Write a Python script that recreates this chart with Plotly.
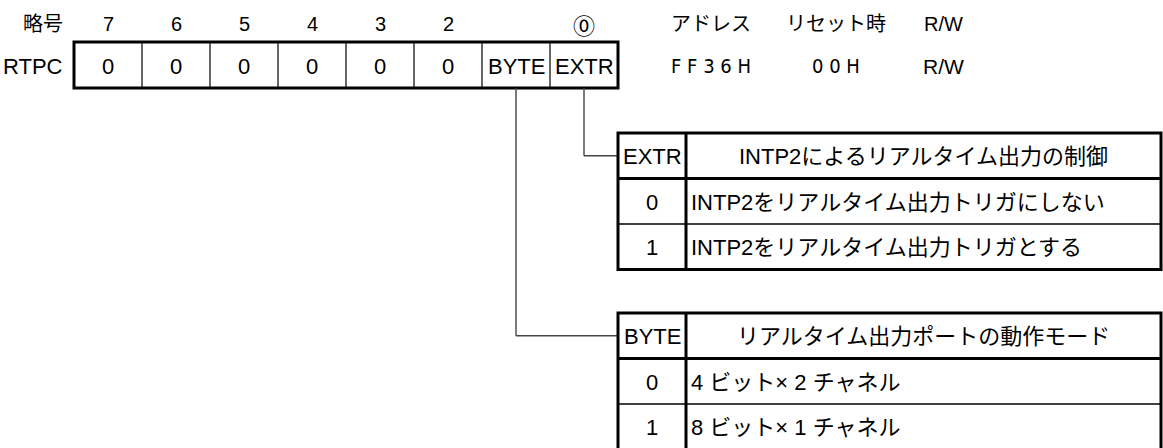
import plotly.graph_objects as go

# ---------------- data ----------------
symbol_label = "略号"
register_name = "RTPC"
bit_numbers = ["7", "6", "5", "4", "3", "2", "", "⓪"]
bit_values = ["0", "0", "0", "0", "0", "0", "BYTE", "EXTR"]
info_headers = ["アドレス", "リセット時", "R/W"]
info_values = ["F F 3 6 H", "0 0 H", "R/W"]

extr_head = ["EXTR", "INTP2によるリアルタイム出力の制御"]
extr_codes = ["0", "1"]
extr_desc = ["INTP2をリアルタイム出力トリガにしない", "INTP2をリアルタイム出力トリガとする"]

byte_head = ["BYTE", "リアルタイム出力ポートの動作モード"]
byte_codes = ["0", "1"]
byte_desc = ["4 ビット× 2 チャネル", "8 ビット× 1 チャネル"]

# ---------------- layout constants ----------------
W, H = 1163, 448
FONT = "Liberation Sans, Arial, Noto Sans CJK JP, sans-serif"
CJK = "Noto Sans CJK JP, sans-serif"
NARROW = "Liberation Sans Narrow, DejaVu Sans Condensed, Liberation Sans, sans-serif"
FS = 22
REG_X0, CELL_W = 74, 68
REG_Y0, REG_Y1 = 42, 88
TOP_Y = 23
LABEL_RIGHT = 65
INFO_X = [711, 836, 943]
TBL_X0, TBL_XC, TBL_X1 = 618, 686, 1161
ROW_H = 45.5
TABLE_TOPS = {"EXTR": 133, "BYTE": 313}
TEXT_DY = 1

fig = go.Figure()
shapes = []
ann = []


def text(x, y, s, anchor="center", size=FS, family=FONT):
    ann.append(dict(x=x, y=y + TEXT_DY, text=s, showarrow=False, xref="x", yref="y",
                    xanchor=anchor, yanchor="middle",
                    font=dict(family=family, size=size, color="#000")))


def line(x0, y0, x1, y1, w=1.2, color="#000"):
    shapes.append(dict(type="line", xref="x", yref="y", x0=x0, y0=y0, x1=x1, y1=y1,
                       line=dict(color=color, width=w)))


def rect(x0, y0, x1, y1, w=3):
    shapes.append(dict(type="rect", xref="x", yref="y", x0=x0, y0=y0, x1=x1, y1=y1,
                       line=dict(color="#000", width=w), fillcolor="rgba(0,0,0,0)"))


# labels on the left
text(LABEL_RIGHT, TOP_Y, symbol_label, anchor="right", size=20)
text(LABEL_RIGHT, (REG_Y0 + REG_Y1) / 2, register_name, anchor="right")

# register cells
n = len(bit_values)
reg_x1 = REG_X0 + CELL_W * n
centers = [REG_X0 + CELL_W * (i + 0.5) for i in range(n)]
for i in range(1, n):
    line(REG_X0 + CELL_W * i, REG_Y0, REG_X0 + CELL_W * i, REG_Y1, w=1.2)
rect(REG_X0, REG_Y0, reg_x1, REG_Y1, w=3)
for c, b, v in zip(centers, bit_numbers, bit_values):
    if b:
        if b.isascii():
            text(c, TOP_Y, b, size=20)
        else:
            text(c, TOP_Y, b, size=22, family=CJK)
    text(c, (REG_Y0 + REG_Y1) / 2, v)

# address / reset / RW
for x, h_, v in zip(INFO_X, info_headers, info_values):
    text(x, TOP_Y, h_, size=20)
    if v == "R/W":
        text(x, (REG_Y0 + REG_Y1) / 2, v, size=21)
    else:
        text(x, (REG_Y0 + REG_Y1) / 2, v, size=20, family=NARROW)


# tables and connectors
def table(field, head, codes, desc):
    top = TABLE_TOPS[field]
    idx = bit_values.index(field)
    rows = [top + ROW_H * k for k in range(len(codes) + 2)]
    cy = (rows[0] + rows[1]) / 2
    line(centers[idx], REG_Y1, centers[idx], cy, w=1.4, color="#444")
    line(centers[idx], cy, TBL_X0, cy, w=1.4, color="#444")
    line(TBL_X0, rows[1], TBL_X1, rows[1], w=3)
    for r in rows[2:-1]:
        line(TBL_X0, r, TBL_X1, r, w=1.5)
    line(TBL_XC, rows[0], TBL_XC, rows[-1], w=3)
    rect(TBL_X0, rows[0], TBL_X1, rows[-1], w=3)
    text((TBL_X0 + TBL_XC) / 2, cy, head[0])
    text((TBL_XC + TBL_X1) / 2, cy, head[1])
    for k, (c, d) in enumerate(zip(codes, desc)):
        ym = (rows[k + 1] + rows[k + 2]) / 2
        text((TBL_X0 + TBL_XC) / 2, ym, c)
        text(TBL_XC + 3, ym, d, anchor="left")


table("EXTR", extr_head, extr_codes, extr_desc)
table("BYTE", byte_head, byte_codes, byte_desc)

fig.update_layout(
    width=W, height=H, margin=dict(l=0, r=0, t=0, b=0),
    paper_bgcolor="white", plot_bgcolor="white",
    xaxis=dict(range=[0, W], visible=False, fixedrange=True),
    yaxis=dict(range=[H, 0], visible=False, fixedrange=True),
    shapes=shapes, annotations=ann, showlegend=False,
)
fig.write_html("out.html", config={"displayModeBar": False},
               post_script="document.body.style.margin='0';document.body.style.overflow='hidden';")
